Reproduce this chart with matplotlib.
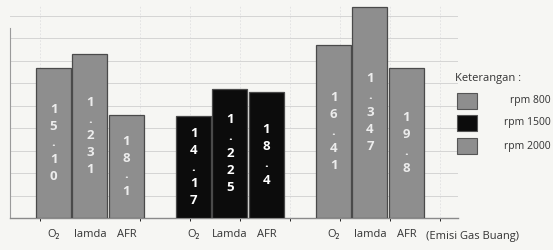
import matplotlib.pyplot as plt
from matplotlib.patches import Rectangle
from matplotlib.ticker import MultipleLocator

plt.rcParams['font.family'] = ['Open Sans', 'DejaVu Sans']

params = ["O₂", "lamda", "AFR"]
rpm_labels = ["rpm 800", "rpm 1500", "rpm 2000"]
# angka yang tertulis di dalam batang
value_text = [["15.10", "1.231", "18.1"],
              ["14.17", "1.225", "18.4"],
              ["16.41", "1.347", "19.8"]]
# tinggi batang (satuan: jarak garis grid)
bar_height = [[6.67, 7.29, 4.58],
              [4.53, 5.73, 5.60],
              [7.69, 9.38, 6.67]]
tick_labels = [["O₂", "lamda", "AFR"],
               ["O₂", "Lamda", "AFR"],
               ["O₂", "lamda", "AFR"]]
colors = ["#8e8e8e", "#0c0c0c", "#8e8e8e"]
text_colors = ["#ececec", "#ffffff", "#ececec"]

BG = "#f6f6f3"
W, H = 553, 250
fig = plt.figure(figsize=(W / 100, H / 100), dpi=100, facecolor=BG)
ax = fig.add_axes([10 / W, 32 / H, 448 / W, 213 / H])
ax.set_facecolor(BG)

width, step = 0.25, 0.26
xs, labels = [], []
for i, rpm in enumerate(rpm_labels):
    for j, p in enumerate(params):
        x = i + (j - 1) * step
        h = bar_height[i][j]
        ax.bar(x, h, width=width, color=colors[i], edgecolor="#4a4a4a",
               linewidth=0.9, zorder=3)
        ax.text(x, h / 2, "\n".join(value_text[i][j]), ha="center",
                va="center", fontsize=9.5, fontweight="bold",
                color=text_colors[i], linespacing=1.38, zorder=4)
        xs.append(x)
        labels.append(tick_labels[i][j])

ax.set_xlim(-0.571, 2.629)
ax.set_ylim(0, 213 / 22.5)
ax.set_xticks(xs)
ax.set_xticklabels(labels, fontsize=8, color="#333333")
ax.tick_params(axis="x", length=0, pad=8)
ax.yaxis.set_major_locator(MultipleLocator(1))
ax.tick_params(axis="y", length=0, labelleft=False)
ax.xaxis.set_minor_locator(MultipleLocator(0.357))
ax.grid(axis="y", which="major", color="#d4d4d4", linewidth=0.7, zorder=0)
ax.grid(axis="x", which="minor", color="#e0e0e0", linewidth=0.6,
        linestyle=(0, (2, 2)), zorder=0)

for s in ["top", "right"]:
    ax.spines[s].set_visible(False)
ax.spines["left"].set_bounds(0, 190 / 22.5)
ax.spines["left"].set_color("#9a9a9a")
ax.spines["bottom"].set_color("#8a8a8a")
ax.spines["bottom"].set_linewidth(1.0)

fig.text(473 / W, 1 - 236 / H, "(Emisi Gas Buang)", ha="center",
         va="center", fontsize=8, color="#333333")

# keterangan
fig.text(455 / W, 1 - 78 / H, "Keterangan :", ha="left", va="center",
         fontsize=8, color="#333333")
for k, rpm in enumerate(rpm_labels):
    yc = [101, 123, 146][k]
    fig.add_artist(Rectangle((457 / W, 1 - (yc + 8) / H), 20 / W, 16 / H,
                             transform=fig.transFigure, facecolor=colors[k],
                             edgecolor="#555555", linewidth=0.8))
    fig.text(551 / W, 1 - yc / H, rpm, ha="right", va="center",
             fontsize=7.5, color="#333333")

fig.savefig("out.png", dpi=100, facecolor=BG)
